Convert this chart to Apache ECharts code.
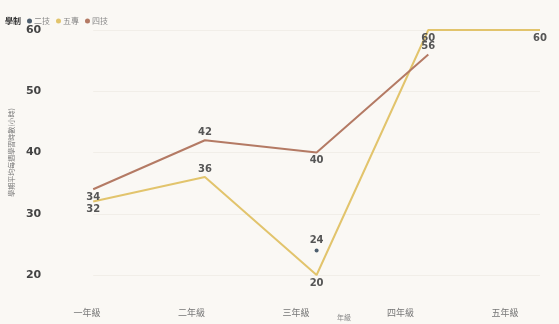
<!DOCTYPE html>
<html><head><meta charset="utf-8">
<script src="https://cdn.jsdelivr.net/npm/echarts@6/dist/echarts.min.js"></script>
<style>html,body{margin:0;padding:0;background:#faf8f4;}#c{width:559px;height:324px;}</style>
</head><body><div id="c"></div>
<script>
const categories = ['一年級','二年級','三年級','四年級','五年級'];
const erji = [null, null, 24, null, null];      // 二技
const wuzhuan = [32, 36, 20, 60, 60];          // 五專
const siji = [34, 42, 40, 56, null];           // 四技
const yTicks = [20, 30, 40, 50, 60];

const lblFont = {fontSize: 10, fontWeight: 'bold', color: '#555', fontFamily: 'DejaVu Sans'};
const posWu = ['bottom','top','bottom','bottom','bottom'];
const posSi = ['bottom','top','bottom','top','top'];
function withPos(arr, pos) {
  return arr.map((v, i) => v == null ? null : {value: v, label: {position: pos[i]}});
}
const chart = echarts.init(document.getElementById('c'));
chart.setOption({
  backgroundColor: '#faf8f4',
  title: {text: '學制', left: 0, top: 12, textStyle: {fontSize: 8, fontWeight: 'bold', color: '#333', fontFamily: 'Noto Sans CJK TC'}},
  legend: {
    left: 22, top: 12, itemWidth: 5, itemHeight: 5, itemGap: 6, icon: 'circle',
    textStyle: {fontSize: 8, color: '#888', fontFamily: 'Noto Sans CJK TC', padding: [0,0,0,-3]},
    data: ['二技','五專','四技']
  },
  grid: [
    {left: 92, right: 19, top: 30, bottom: 49},
    {left: 87, right: 54, top: 30, bottom: 49}
  ],
  xAxis: [
    {type: 'category', data: categories, boundaryGap: false, gridIndex: 0,
     axisLine: {show: false}, axisTick: {show: false}, axisLabel: {show: false}, splitLine: {show: false}},
    {type: 'category', data: categories, boundaryGap: false, gridIndex: 1,
     axisLine: {show: false}, axisTick: {show: false}, splitLine: {show: false},
     axisLabel: {margin: 33, fontSize: 9, color: '#777', fontFamily: 'Noto Sans CJK TC'}}
  ],
  yAxis: [
    {type: 'value', min: yTicks[0], max: yTicks[yTicks.length-1], interval: 10, gridIndex: 0,
     name: '學期平均每週學習時數(小時)', nameLocation: 'middle', nameGap: 78, nameRotate: 90,
     nameTextStyle: {fontSize: 7, color: '#777', fontFamily: 'Noto Sans CJK TC'},
     axisLine: {show: false}, axisTick: {show: false},
     axisLabel: {margin: 52, fontSize: 11, fontWeight: 'bold', color: '#444', fontFamily: 'DejaVu Sans'},
     splitLine: {lineStyle: {color: '#f1eee8', width: 1}}},
    {type: 'value', min: 20, max: 60, gridIndex: 1, show: false}
  ],
  graphic: [{type: 'text', left: 337, top: 314, style: {text: '年級', fontSize: 7, fill: '#888', fontFamily: 'Noto Sans CJK TC'}}],
  series: [
    {name: '二技', type: 'line', data: erji, symbol: 'circle', symbolSize: 4, showSymbol: true,
     itemStyle: {color: '#4d5e6e'}, lineStyle: {width: 2},
     label: Object.assign({show: true, position: 'top', distance: 3}, lblFont)},
    {name: '五專', type: 'line', data: withPos(wuzhuan, posWu), symbol: 'circle', symbolSize: 0.1, showSymbol: true,
     itemStyle: {color: '#e2c46c'}, lineStyle: {width: 2, color: '#e2c46c'},
     label: Object.assign({show: true, distance: 3}, lblFont)},
    {name: '四技', type: 'line', data: withPos(siji, posSi), symbol: 'circle', symbolSize: 0.1, showSymbol: true,
     itemStyle: {color: '#b47a64'}, lineStyle: {width: 2, color: '#b47a64'},
     label: Object.assign({show: true, distance: 3}, lblFont)}
  ]
});
</script></body></html>
